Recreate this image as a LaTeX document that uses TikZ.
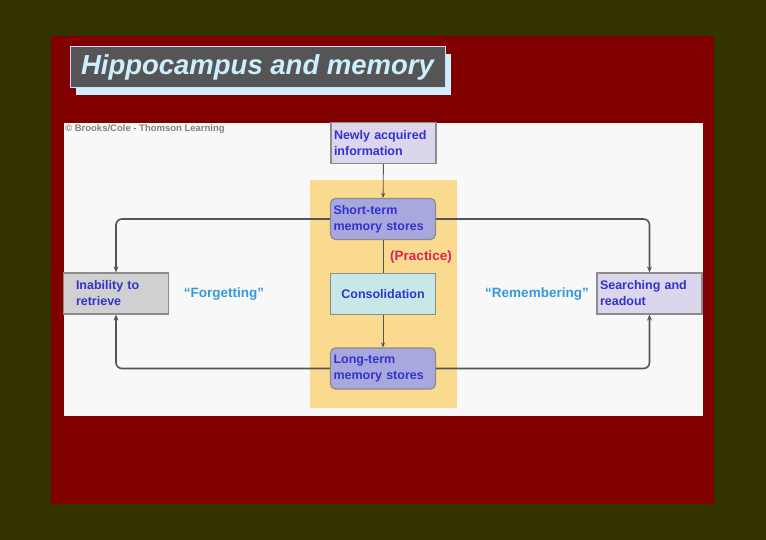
\documentclass[tikz,border=0pt]{standalone}
\usepackage{fontspec}
\setmainfont{Liberation Sans}
\usetikzlibrary{arrows.meta,shadows}

\definecolor{olivebg}{RGB}{51,51,0}
\definecolor{slidered}{RGB}{128,0,0}
\definecolor{panelwhite}{RGB}{248,248,248}
\definecolor{practiceyellow}{RGB}{249,218,142}
\definecolor{lavender}{RGB}{220,214,236}
\definecolor{storeblue}{RGB}{168,168,222}
\definecolor{consolcyan}{RGB}{200,232,232}
\definecolor{inabgray}{RGB}{208,208,208}
\definecolor{boxtext}{RGB}{51,51,204}
\definecolor{quotetext}{RGB}{51,153,221}
\definecolor{practicered}{RGB}{221,34,85}
\definecolor{titlegray}{RGB}{85,85,85}
\definecolor{titletext}{RGB}{204,238,255}
\definecolor{linegray}{RGB}{85,85,85}

\tikzset{
  membox/.style={draw=gray!90,line width=1.2,minimum width=105,minimum height=41,
    text width=99,inner sep=3,align=left,text=boxtext,
    font=\bfseries\fontsize{12.5}{16}\selectfont},
  memstore/.style={membox,rounded corners=5,fill=storeblue},
  quote/.style={text=quotetext,font=\bfseries\fontsize{13.5}{15}\selectfont},
  loopline/.style={draw=linegray,line width=1.6,rounded corners=6},
  feedline/.style={draw=linegray,line width=0.9},
}

\begin{document}
\begin{tikzpicture}[x=1pt,y=-1pt]
			\useasboundingbox (0,0) rectangle (766,540);
			\fill[olivebg] (0,0) rectangle (766,540);
			\fill[slidered] (51,36) rectangle (714,504);
			\node[fill=titlegray,draw=white!85!blue,line width=1,minimum width=375,minimum height=41,
			  drop shadow={shadow xshift=6,shadow yshift=7,fill=titletext,opacity=1},
			  text=titletext,font=\bfseries\itshape\fontsize{27.5}{30}\selectfont] (title) at (257.5,67.5) {Hippocampus and memory};
			\fill[panelwhite] (64,123) rectangle (703,416);
			\fill[practiceyellow] (310,180) rectangle (457,408);
			\node[anchor=west,text=gray,inner sep=0,font=\bfseries\fontsize{9.5}{10}\selectfont] (credit) at (65,129) {\textcopyright\ Brooks/Cole - Thomson Learning};
			\node[membox,fill=lavender] (newly) at (383.5,143) {Newly acquired\\information};
			\node[memstore] (short) at (383,219) {Short-term\\memory stores};
			\node[membox,fill=consolcyan,align=center] (consol) at (383,294) {Consolidation};
			\node[memstore] (long) at (383,368.5) {Long-term\\memory stores};
			\node[membox,fill=inabgray,text width=80] (inab) at (116,293.5) {Inability to\\retrieve};
			\node[membox,fill=lavender] (search) at (649.5,293.5) {Searching and\\readout};
			\node[quote] (forget) at (224,294) {“Forgetting”};
			\node[quote] (remember) at (537,294) {“Remembering”};
			\node[text=practicered,font=\bfseries\fontsize{13.5}{15}\selectfont] (practice) at (421,257) {(Practice)};
			\draw[feedline,-{Stealth[length=5,width=4]}] (newly)--(short);
			\draw[feedline] (short)--(consol);
			\draw[feedline,-{Stealth[length=5,width=4]}] (consol)--(long);
			\draw[loopline,-{Stealth[length=6,width=5]}] (short.west)-|(inab.north);
			\draw[loopline,-{Stealth[length=6,width=5]}] (short.east)-|(search.north);
			\draw[loopline,-{Stealth[length=6,width=5]}] (long.west)-|(inab.south);
			\draw[loopline,-{Stealth[length=6,width=5]}] (long.east)-|(search.south);
		\end{tikzpicture}
\end{document}
